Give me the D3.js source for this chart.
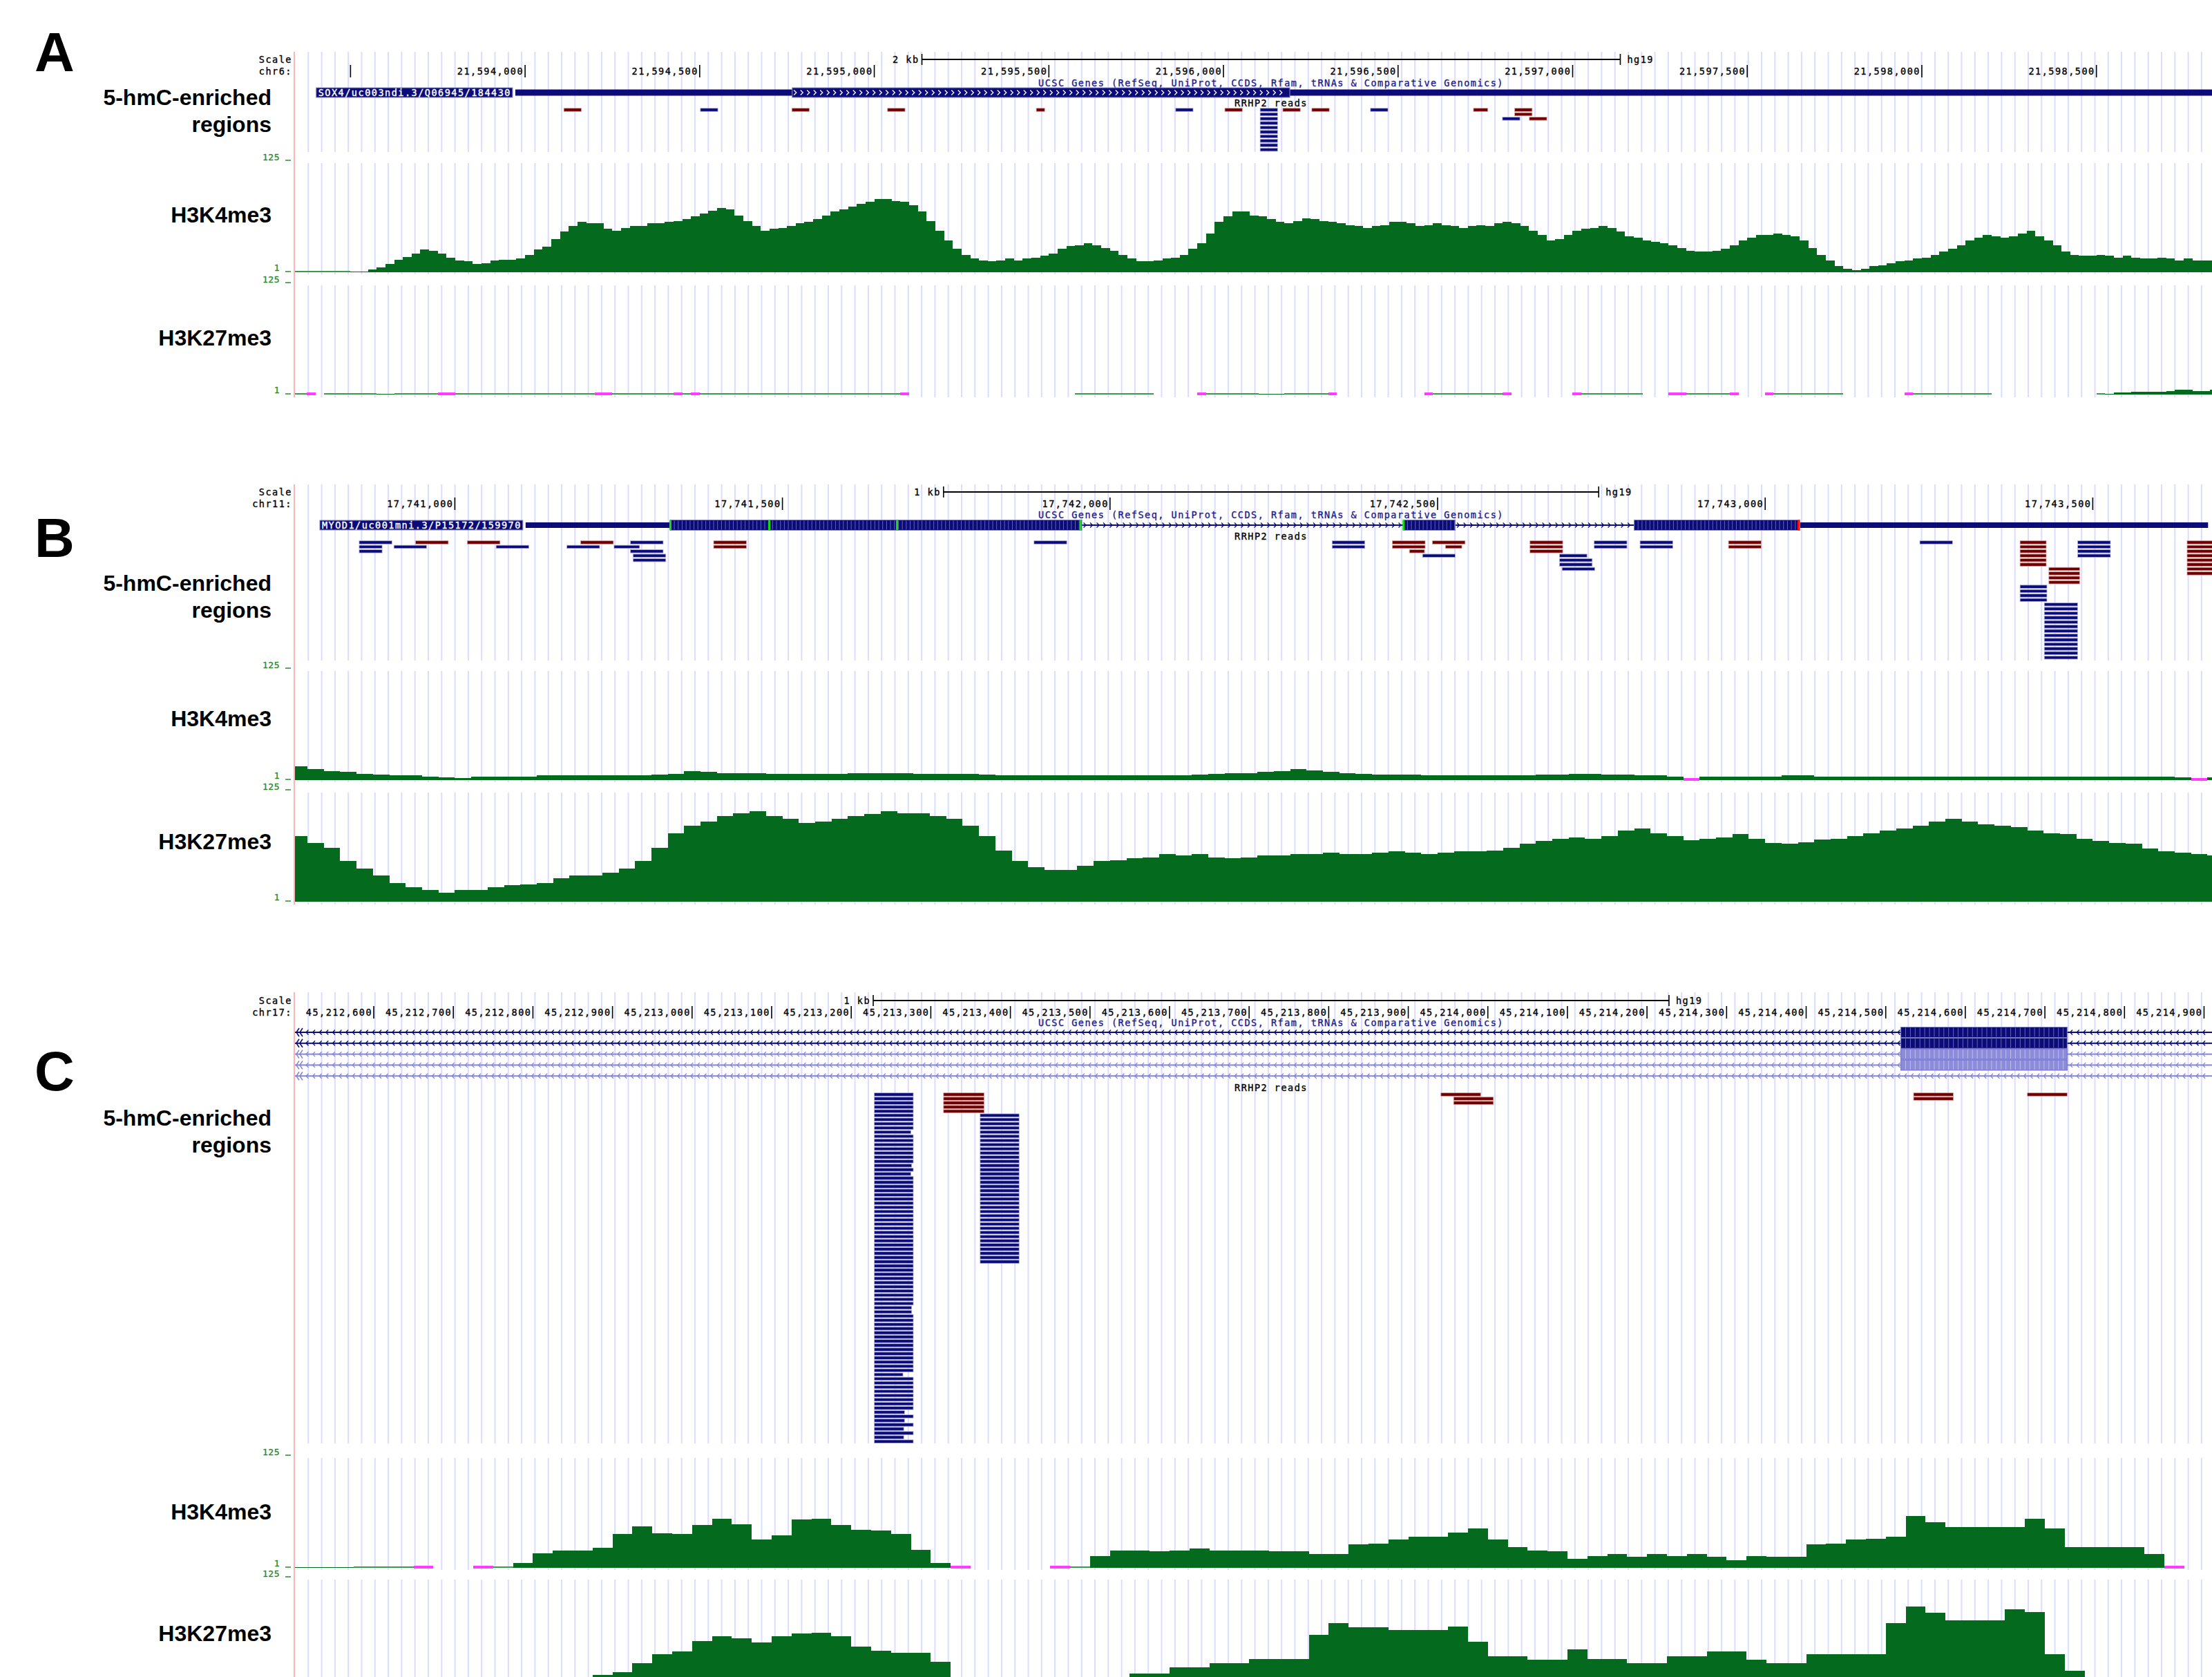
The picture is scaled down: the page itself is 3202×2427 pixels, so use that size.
<!DOCTYPE html>
<html>
<head>
<meta charset="utf-8">
<script src="https://cdn.jsdelivr.net/npm/d3@7"></script>
<style>
  body { margin: 0; background: #fff; }
  svg { display: block; }
  .mono { font-family: "DejaVu Sans Mono", monospace; font-size: 13.5px; letter-spacing: 1.5px; stroke-width: 0.35px; }
  .lab { font-family: "Liberation Sans", Arial, sans-serif; font-weight: bold; font-size: 32px; }
  .letter { font-family: "Liberation Sans", Arial, sans-serif; font-weight: bold; font-size: 80px; }
</style>
</head>
<body>
<svg id="fig" width="3202" height="2427"></svg>
<script>
// ---- data -------------------------------------------------------------
const binSize = 25;

// genomic window shown in each panel
const windowA = [21593341, 21598831];
const windowB = [17740756, 17743682];
const windowC = [45212501, 45214910];
const chroms = ["chr6:", "chr11:", "chr17:"];

const ticksA = [21593500, 21594000, 21594500, 21595000, 21595500, 21596000, 21596500, 21597000, 21597500, 21598000, 21598500];
const ticksB = [17741000, 17741500, 17742000, 17742500, 17743000, 17743500];
const ticksC = [45212600, 45212700, 45212800, 45212900, 45213000, 45213100, 45213200, 45213300, 45213400, 45213500,
  45213600, 45213700, 45213800, 45213900, 45214000, 45214100, 45214200, 45214300, 45214400, 45214500,
  45214600, 45214700, 45214800, 45214900];

const scaleBarBp = [2000, 1000, 1000];
const scaleBarText = ["2 kb", "1 kb", "1 kb"];

// genes
const geneA = { name: "SOX4/uc003ndi.3/Q06945/184430", exons: [[21593972, 21598849]], cds: [21594765, 21596190] };
const geneB = { name: "MYOD1/uc001mni.3/P15172/159970",
  exons: [[17741108, 17741957], [17742448, 17742527], [17742800, 17743676]], cds: [17741329, 17743053] };
const codonMarksB = [[17741329, "start"], [17741480, "start"], [17741675, "start"], [17741955, "start"], [17742448, "start"], [17743051, "stop"]];
const transcriptsC = [
  { shade: "dark", exons: [[45214519, 45214728]] },
  { shade: "dark", exons: [[45214519, 45214728]] },
  { shade: "light", exons: [[45214519, 45214728]] },
  { shade: "light", exons: [[45214519, 45214728]] },
  { shade: "light", exons: [] }
];

// RRHP2 reads: [start, end, firstRow, lastRow, strand]
const readsA = [
  [21594111, 21594161, 0, 0, "-"], [21594502, 21594552, 0, 0, "+"], [21594764, 21594814, 0, 0, "-"],
  [21595038, 21595088, 0, 0, "-"], [21595464, 21595488, 0, 0, "-"], [21595863, 21595913, 0, 0, "+"],
  [21596004, 21596054, 0, 0, "-"], [21596105, 21596155, 0, 9, "+"], [21596170, 21596220, 0, 0, "-"],
  [21596253, 21596303, 0, 0, "-"], [21596421, 21596471, 0, 0, "+"], [21596716, 21596757, 0, 0, "-"],
  [21596834, 21596884, 0, 1, "-"], [21596799, 21596849, 2, 2, "+"], [21596876, 21596926, 2, 2, "-"]
];
const readsB = [
  [17740854, 17740904, 0, 0, "+"], [17740854, 17740889, 1, 2, "+"], [17740940, 17740990, 0, 0, "-"],
  [17740907, 17740957, 1, 1, "+"], [17741019, 17741069, 0, 0, "-"], [17741063, 17741113, 1, 1, "+"],
  [17741192, 17741242, 0, 0, "-"], [17741171, 17741221, 1, 1, "+"], [17741268, 17741318, 0, 0, "+"],
  [17741243, 17741282, 1, 1, "+"], [17741268, 17741318, 2, 2, "+"], [17741272, 17741322, 3, 4, "+"],
  [17741395, 17741445, 0, 1, "-"], [17741884, 17741934, 0, 0, "+"], [17742339, 17742389, 0, 1, "+"],
  [17742431, 17742481, 0, 1, "-"], [17742457, 17742480, 2, 2, "-"], [17742492, 17742542, 0, 0, "-"],
  [17742512, 17742537, 1, 1, "-"], [17742477, 17742527, 3, 3, "+"], [17742641, 17742691, 0, 2, "-"],
  [17742686, 17742728, 3, 3, "+"], [17742686, 17742736, 4, 5, "+"], [17742690, 17742740, 6, 6, "+"],
  [17742739, 17742789, 0, 1, "+"], [17742809, 17742859, 0, 1, "+"], [17742944, 17742994, 0, 1, "-"],
  [17743236, 17743286, 0, 0, "+"], [17743389, 17743429, 0, 5, "-"], [17743433, 17743480, 6, 9, "-"],
  [17743389, 17743430, 10, 13, "+"], [17743426, 17743477, 14, 26, "+"], [17743477, 17743527, 0, 3, "+"],
  [17743644, 17743694, 0, 7, "-"]
];
const readsC = [
  [45213229, 45213278, 0, 8, "+"], [45213229, 45213275, 9, 9, "+"], [45213229, 45213278, 10, 16, "+"],
  [45213229, 45213276, 17, 17, "+"], [45213229, 45213278, 18, 18, "+"], [45213229, 45213275, 19, 19, "+"],
  [45213229, 45213278, 20, 50, "+"], [45213229, 45213276, 51, 52, "+"], [45213229, 45213278, 53, 66, "+"],
  [45213229, 45213265, 67, 67, "+"], [45213229, 45213278, 68, 75, "+"], [45213229, 45213267, 76, 76, "+"],
  [45213229, 45213278, 77, 77, "+"], [45213229, 45213267, 78, 78, "+"], [45213229, 45213278, 79, 79, "+"],
  [45213229, 45213266, 80, 80, "+"], [45213229, 45213278, 81, 81, "+"], [45213229, 45213266, 82, 82, "+"],
  [45213229, 45213278, 83, 83, "+"],
  [45213316, 45213367, 0, 4, "-"], [45213362, 45213411, 5, 40, "+"],
  [45213941, 45213991, 0, 0, "-"], [45213957, 45214007, 1, 2, "-"],
  [45214535, 45214585, 0, 1, "-"], [45214678, 45214728, 0, 0, "-"]
];

// signal tracks, one value per 25 bp bin (null = no data, 0 = below view minimum)
const binStartA = 21593325;
const binStartB = 17740750;
const binStartC = 45212500;

const h3k4A = [
  1, 1, 1, 1, 1, 1, 1, 2, 2, 4,
  6, 10, 15, 18, 22, 26, 25, 22, 17, 14,
  13, 10, 11, 14, 15, 15, 16, 20, 26, 29,
  38, 46, 52, 57, 55, 55, 49, 47, 50, 52,
  52, 55, 55, 57, 58, 60, 63, 66, 69, 72,
  71, 64, 58, 52, 47, 49, 50, 52, 55, 57,
  60, 64, 68, 71, 74, 77, 79, 82, 82, 80,
  79, 75, 68, 58, 47, 36, 27, 20, 16, 14,
  13, 14, 16, 14, 16, 17, 19, 22, 27, 30,
  31, 33, 31, 28, 25, 20, 16, 13, 13, 14,
  16, 17, 20, 27, 33, 44, 57, 63, 68, 68,
  64, 63, 60, 57, 55, 58, 61, 60, 58, 57,
  55, 53, 52, 50, 52, 53, 57, 57, 55, 52,
  53, 55, 53, 52, 50, 52, 53, 52, 55, 57,
  55, 52, 47, 42, 36, 38, 42, 47, 49, 50,
  52, 50, 46, 41, 39, 36, 35, 33, 31, 28,
  25, 24, 24, 25, 27, 31, 36, 39, 42, 42,
  44, 42, 41, 36, 28, 20, 14, 8, 5, 3,
  5, 8, 9, 11, 13, 14, 16, 17, 20, 24,
  27, 31, 36, 39, 42, 41, 39, 41, 44, 47,
  41, 36, 31, 24, 20, 19, 19, 20, 19, 17,
  19, 17, 16, 16, 17, 16, 14, 16, 14, 14, 14
];
const h3k27A = [
  1, 1, 0, null, 1, 1, 1, 1, 1, 1,
  2, 2, 1, 1, 1, 1, 1, 0, 0, 1,
  1, 1, 1, 1, 1, 1, 1, 1, 1, 1,
  1, 1, 1, 1, 1, 0, 0, 1, 1, 1,
  1, 1, 1, 1, 0, 1, 0, 1, 1, 1,
  1, 1, 1, 1, 1, 1, 1, 1, 1, 1,
  1, 1, 1, 1, 1, 1, 1, 1, 1, 1,
  0, null, null, null, null, null, null, null, null, null,
  null, null, null, null, null, null, null, null, null, null,
  1, 1, 1, 1, 1, 1, 1, 1, 1, null,
  null, null, null, null, 0, 1, 1, 1, 1, 1,
  1, 2, 2, 2, 1, 1, 1, 1, 1, 0,
  null, null, null, null, null, null, null, null, null, null,
  0, 1, 1, 1, 1, 1, 1, 1, 1, 0,
  null, null, null, null, null, null, null, 0, 1, 1,
  1, 1, 1, 1, 1, null, null, null, 0, 0,
  1, 1, 1, 1, 1, 0, null, null, null, 0,
  1, 1, 1, 1, 1, 1, 1, 1, null, null,
  null, null, null, null, null, 0, 1, 1, 1, 1,
  1, 1, 1, 1, 1, null, null, null, null, null,
  null, null, null, null, null, null, null, 1, 2, 3,
  3, 4, 4, 4, 4, 5, 6, 6, 5, 5, 6
];

const h3k4B = [
  16, 13, 11, 10, 8, 7, 6, 6, 5, 4,
  3, 5, 5, 5, 5, 6, 6, 6, 6, 6,
  6, 6, 7, 8, 11, 10, 9, 9, 9, 8,
  8, 8, 8, 8, 9, 9, 9, 9, 8, 8,
  8, 8, 7, 6, 6, 6, 6, 6, 6, 6,
  6, 6, 6, 6, 6, 7, 8, 9, 9, 10,
  11, 13, 12, 10, 9, 8, 7, 7, 7, 6,
  6, 6, 6, 6, 6, 6, 7, 7, 8, 8,
  7, 7, 6, 6, 5, 0, 5, 5, 5, 5,
  5, 6, 6, 5, 5, 5, 5, 5, 5, 5,
  5, 5, 5, 5, 5, 5, 5, 5, 5, 5,
  5, 5, 5, 5, 5, 4, 0, 4, 4
];
const h3k27B = [
  74, 66, 61, 46, 38, 30, 22, 17, 14, 11,
  14, 14, 17, 19, 20, 22, 27, 30, 30, 33,
  38, 46, 61, 77, 85, 90, 96, 99, 101, 96,
  93, 88, 90, 93, 96, 98, 101, 99, 99, 96,
  93, 85, 74, 58, 46, 39, 36, 36, 41, 46,
  47, 49, 50, 54, 52, 54, 50, 49, 50, 52,
  52, 54, 54, 55, 54, 54, 55, 57, 55, 54,
  55, 57, 57, 58, 61, 65, 68, 71, 72, 71,
  74, 80, 82, 77, 74, 69, 71, 72, 76, 71,
  66, 65, 67, 70, 71, 74, 77, 80, 82, 85,
  90, 93, 90, 87, 85, 84, 80, 77, 76, 71,
  68, 66, 65, 60, 57, 55, 54, 52, 52
];

const h3k4C = [
  2, 2, 2, 1, 1, 1, 0, null, null, 0,
  1, 6, 17, 20, 20, 23, 38, 47, 39, 38,
  48, 55, 49, 32, 37, 54, 55, 48, 43, 42,
  38, 21, 6, 0, null, null, null, null, 0, 1,
  14, 20, 20, 19, 20, 22, 20, 20, 20, 19,
  19, 16, 16, 27, 28, 32, 35, 35, 40, 44,
  32, 24, 20, 19, 11, 14, 16, 13, 16, 14,
  16, 13, 9, 14, 13, 13, 27, 28, 32, 33,
  35, 58, 51, 46, 46, 46, 46, 55, 44, 24,
  24, 24, 24, 16, 0, null, null
];
const h3k27C = [
  3, 3, 3, 2, 2, 2, 2, 2, 2, 2,
  3, 4, 6, 8, 10, 16, 19, 29, 39, 42,
  54, 59, 57, 52, 59, 62, 63, 59, 48, 43,
  41, 41, 31, 14, 6, 3, 2, 2, 2, 3,
  6, 10, 18, 18, 25, 25, 29, 29, 34, 34,
  34, 61, 74, 69, 69, 66, 66, 66, 70, 53,
  37, 37, 33, 33, 45, 34, 34, 29, 29, 37,
  37, 42, 42, 33, 29, 29, 39, 39, 39, 39,
  74, 92, 85, 77, 77, 77, 89, 86, 39, 21,
  8, 5, 3, 3, 2, 2, 2
];

const trackNames = ["H3K4me3", "H3K27me3"];

// ---- layout -------------------------------------------------------------
const W = 3202, H = 2427, left = 427, right = 3202, centerX = 1840;
const navy = "#0c0c78", darkRed = "#6e0000", green = "#046a1d";
const light = "#8585d6";

const layout = [
  { letter: "A", letterY: 103, top: 75, readsBottom: 220, scaleY: 86, chromY: 103, genesY: 120, geneY: 134,
    readsLabelY: 149, row0: 159, rowStep: 6.4, k4: [232, 394], k27: [409, 571], hmcY: [152, 191], k4Y: 322, k27Y: 500 },
  { letter: "B", letterY: 806, top: 701, readsBottom: 956, scaleY: 712, chromY: 729, genesY: 745, geneY: 760,
    readsLabelY: 776, row0: 785, rowStep: 6.41, k4: [967, 1129], k27: [1143, 1305], hmcY: [855, 894], k4Y: 1051, k27Y: 1229 },
  { letter: "C", letterY: 1578, top: 1436, readsBottom: 2089, scaleY: 1448, chromY: 1465, genesY: 1480, geneY: 1494,
    readsLabelY: 1574, row0: 1584, rowStep: 6.05, k4: [2106, 2269], k27: [2282, 2444], hmcY: [1629, 1668], k4Y: 2199, k27Y: 2375 }
];

const panels = [
  { win: windowA, ticks: ticksA, reads: readsA, k4: h3k4A, k27: h3k27A, binStart: binStartA },
  { win: windowB, ticks: ticksB, reads: readsB, k4: h3k4B, k27: h3k27B, binStart: binStartB },
  { win: windowC, ticks: ticksC, reads: readsC, k4: h3k4C, k27: h3k27C, binStart: binStartC }
];

// ---- drawing ------------------------------------------------------------
const svg = d3.select("#fig");
svg.append("rect").attr("width", W).attr("height", H).attr("fill", "#fff");
svg.append("defs").append("clipPath").attr("id", "dataClip")
  .append("rect").attr("x", left).attr("y", 0).attr("width", right - left).attr("height", H);

function mono(g, x, y, str, anchor, fill) {
  return g.append("text").attr("class", "mono")
    .attr("x", x).attr("y", y)
    .attr("text-anchor", anchor || "start")
    .attr("dominant-baseline", "central")
    .attr("fill", fill || "#000")
    .attr("stroke", fill || "#000")
    .text(str);
}

function chevrons(g, x0, x1, y, dir, color, step) {
  const xs = d3.range(x0 + 5, x1 - 3, step || 9.5);
  g.selectAll(null).data(xs).join("path")
    .attr("d", x => dir > 0
      ? `M${x - 2.5},${y - 3.5}L${x + 1},${y}L${x - 2.5},${y + 3.5}`
      : `M${x + 2.5},${y - 3.5}L${x - 1},${y}L${x + 2.5},${y + 3.5}`)
    .attr("fill", "none").attr("stroke", color).attr("stroke-width", 1.3);
}

function codonStripes(g, xs, a, b, y, h, color) {
  const pos = d3.range(a + 6, b, 6);
  g.selectAll(null).data(pos).join("line")
    .attr("x1", d => xs(d)).attr("x2", d => xs(d))
    .attr("y1", y - h / 2 + 1).attr("y2", y + h / 2 - 1)
    .attr("stroke", color).attr("stroke-width", 1);
}

function geneLabel(g, xEnd, y, text) {
  const t = mono(g, xEnd - 4, y, text, "end", "#fff");
  const w = t.node().getComputedTextLength();
  g.insert("rect", "text:last-child")
    .attr("x", xEnd - w - 7).attr("y", y - 7).attr("width", w + 5).attr("height", 14)
    .attr("fill", navy).attr("stroke", "#8a8ac8").attr("stroke-width", 1);
  t.raise();
}

function drawSignal(g, xs, vals, start, yr) {
  const y = d3.scaleLinear().domain([1, 125]).range([yr[1], yr[0]]);
  const bins = vals.map((v, i) => ({
    v,
    x0: Math.round(xs(start + i * binSize)),
    x1: Math.round(xs(start + (i + 1) * binSize))
  }));
  const gg = g.append("g").attr("clip-path", "url(#dataClip)").attr("shape-rendering", "crispEdges");
  gg.selectAll(null).data(bins.filter(d => d.v != null && d.v > 1)).join("rect")
    .attr("x", d => d.x0).attr("width", d => d.x1 - d.x0)
    .attr("y", d => y(d.v)).attr("height", d => yr[1] - y(d.v))
    .attr("fill", green);
  gg.selectAll(null).data(bins.filter(d => d.v === 1)).join("rect")
    .attr("x", d => d.x0).attr("width", d => d.x1 - d.x0)
    .attr("y", yr[1] - 2).attr("height", 2).attr("fill", "#3c9a4c");
  gg.selectAll(null).data(bins.filter(d => d.v === 0)).join("rect")
    .attr("x", d => d.x0).attr("width", d => d.x1 - d.x0)
    .attr("y", yr[1] - 3).attr("height", 3.5).attr("fill", "#ff3cff");

  // view limits 125 / 1 (only where they fall inside the picture)
  const ax = g.append("g");
  [[125, yr[0], -5], [1, yr[1] - 1, -6]].forEach(([lab, yy, dy]) => {
    if (yy > H - 4) return;
    mono(ax, 405, yy + dy, String(lab), "end", "#2a8a2a").style("letter-spacing", "0.5px").style("font-size", "13px");
    ax.append("line").attr("x1", 413).attr("x2", 421).attr("y1", yy).attr("y2", yy)
      .attr("stroke", "#2a8a2a").attr("stroke-width", 1.5);
  });
}

function drawPanel(p, L, idx) {
  const xs = d3.scaleLinear().domain(p.win).range([left, right]);
  const pxPerBp = xs(1) - xs(0);
  const g = svg.append("g");

  // guide lines
  const bottom = Math.min(L.k27[1] + 4, H);
  const spans = [[L.top, L.readsBottom], [L.k4[0] + 4, L.k4[1] + 3], [L.k27[0] + 4, bottom]];
  const gx = d3.range(left + 19.3, right, 19.3);
  spans.forEach(([y0, y1]) => {
    g.append("g").selectAll("line").data(gx).join("line")
      .attr("x1", d => d).attr("x2", d => d).attr("y1", y0).attr("y2", y1)
      .attr("stroke", "#dcdcff").attr("stroke-width", 2);
  });
  g.append("line").attr("x1", left - 1).attr("x2", left - 1).attr("y1", L.top).attr("y2", bottom)
    .attr("stroke", "#ffb4b4").attr("stroke-width", 2);

  // base position ruler
  mono(g, 423, L.scaleY, "Scale", "end");
  mono(g, 423, L.chromY, chroms[idx], "end");
  const fmt = d3.format(",");
  p.ticks.forEach(t => {
    const x = xs(t);
    g.append("line").attr("x1", x).attr("x2", x).attr("y1", L.chromY - 9).attr("y2", L.chromY + 9)
      .attr("stroke", "#000").attr("stroke-width", 1.6);
    const lbl = mono(g, x - 2, L.chromY, fmt(t), "end");
    if (x - 2 - lbl.node().getComputedTextLength() < left + 5) lbl.remove();
  });
  const barPx = scaleBarBp[idx] * pxPerBp;
  const bx0 = centerX - barPx / 2, bx1 = centerX + barPx / 2;
  g.append("line").attr("x1", bx0).attr("x2", bx1).attr("y1", L.scaleY).attr("y2", L.scaleY)
    .attr("stroke", "#000").attr("stroke-width", 2);
  [bx0, bx1].forEach(x => g.append("line").attr("x1", x).attr("x2", x)
    .attr("y1", L.scaleY - 8).attr("y2", L.scaleY + 8).attr("stroke", "#000").attr("stroke-width", 1.6));
  mono(g, bx0 - 4, L.scaleY, scaleBarText[idx], "end");
  mono(g, bx1 + 10, L.scaleY, "hg19", "start");

  mono(g, centerX, L.genesY, "UCSC Genes (RefSeq, UniProt, CCDS, Rfam, tRNAs & Comparative Genomics)", "middle", "#1c1c8c");
  mono(g, centerX, L.readsLabelY, "RRHP2 reads", "middle");

  // genes
  const gg = g.append("g");
  const gc = gg.append("g").attr("clip-path", "url(#dataClip)");
  if (idx === 0) {
    const gn = geneA, y = L.geneY;
    const [tx0, tx1] = gn.exons[0];
    gc.append("rect").attr("x", xs(tx0)).attr("width", xs(tx1) - xs(tx0)).attr("y", y - 4.5).attr("height", 9).attr("fill", navy);
    gc.append("rect").attr("x", xs(gn.cds[0])).attr("width", xs(gn.cds[1]) - xs(gn.cds[0]))
      .attr("y", y - 7).attr("height", 14).attr("fill", navy).attr("stroke", "#8a8ac8").attr("stroke-width", 1);
    chevrons(gc, xs(gn.cds[0]), xs(gn.cds[1]), y, 1, "#fff", 9.5);
    geneLabel(gg, xs(tx0) - 2, y, gn.name);
  } else if (idx === 1) {
    const gn = geneB, y = L.geneY;
    const ex = gn.exons;
    for (let i = 0; i < ex.length - 1; i++) {
      const a = xs(ex[i][1]), b = xs(ex[i + 1][0]);
      gc.append("rect").attr("x", a).attr("width", b - a).attr("y", y - 1).attr("height", 2).attr("fill", navy);
      chevrons(gc, a, b, y, 1, navy, 9.5);
    }
    ex.forEach(([a, b]) => {
      gc.append("rect").attr("x", xs(a)).attr("width", xs(b) - xs(a)).attr("y", y - 4).attr("height", 8).attr("fill", navy);
      const c0 = Math.max(a, gn.cds[0]), c1 = Math.min(b, gn.cds[1]);
      if (c1 > c0) {
        gc.append("rect").attr("x", xs(c0)).attr("width", xs(c1) - xs(c0)).attr("y", y - 7.5).attr("height", 15)
          .attr("fill", navy).attr("stroke", "#8a8ac8").attr("stroke-width", 1);
        codonStripes(gc, xs, c0, c1, y, 15, "rgba(170,170,230,0.55)");
      }
    });
    codonMarksB.forEach(([bp, kind]) => {
      gc.append("rect").attr("x", xs(bp) - 1.5).attr("width", 3).attr("y", y - 7.5).attr("height", 15)
        .attr("fill", kind === "stop" ? "#ff1010" : "#10e010");
    });
    geneLabel(gg, xs(ex[0][0]) - 2, y, gn.name);
  } else {
    transcriptsC.forEach((tr, i) => {
      const y = L.geneY + i * 15.8;
      const col = tr.shade === "dark" ? navy : light;
      gc.append("rect").attr("x", left).attr("width", right - left).attr("y", y - 1).attr("height", 2).attr("fill", col);
      chevrons(gc, left + 12, right, y, -1, col, 9.6);
      [left + 2, left + 7].forEach(x => gc.append("path")
        .attr("d", `M${x + 4},${y - 6}L${x},${y}L${x + 4},${y + 6}`)
        .attr("fill", "none").attr("stroke", col).attr("stroke-width", 1.6));
      tr.exons.forEach(([a, b]) => {
        gc.append("rect").attr("x", xs(a)).attr("width", xs(b) - xs(a)).attr("y", y - 7.5).attr("height", 15)
          .attr("fill", tr.shade === "dark" ? navy : "#8c8cda").attr("stroke", tr.shade === "dark" ? "#7a7ac0" : "#7070c8").attr("stroke-width", 1);
        codonStripes(gc, xs, a, b, y, 15, tr.shade === "dark" ? "rgba(170,170,230,0.55)" : "rgba(210,210,245,0.7)");
      });
    });
  }

  // reads
  const rd = [];
  p.reads.forEach(([s, e, r0, r1, strand]) => {
    for (let r = r0; r <= r1; r++) rd.push({ s, e, r, strand });
  });
  g.append("g").attr("clip-path", "url(#dataClip)").selectAll("rect").data(rd).join("rect")
    .attr("x", d => xs(d.s)).attr("width", d => xs(d.e) - xs(d.s))
    .attr("y", d => L.row0 + d.r * L.rowStep - 2.3).attr("height", 4.6)
    .attr("fill", d => d.strand === "+" ? navy : darkRed)
    .attr("stroke", d => d.strand === "+" ? "#b4b4dc" : "#d8a0a0").attr("stroke-width", 0.8);

  // signal tracks
  drawSignal(g, xs, p.k4, p.binStart, L.k4);
  drawSignal(g, xs, p.k27, p.binStart, L.k27);

  // left labels
  const lab = g.append("g");
  lab.append("text").attr("class", "letter").attr("x", 50).attr("y", L.letterY).text(L.letter);
  lab.append("text").attr("class", "lab").attr("x", 393).attr("y", L.hmcY[0]).attr("text-anchor", "end").text("5-hmC-enriched");
  lab.append("text").attr("class", "lab").attr("x", 393).attr("y", L.hmcY[1]).attr("text-anchor", "end").text("regions");
  lab.append("text").attr("class", "lab").attr("x", 393).attr("y", L.k4Y).attr("text-anchor", "end").text(trackNames[0]);
  lab.append("text").attr("class", "lab").attr("x", 393).attr("y", L.k27Y).attr("text-anchor", "end").text(trackNames[1]);
}

panels.forEach((p, i) => drawPanel(p, layout[i], i));
</script>
</body>
</html>
